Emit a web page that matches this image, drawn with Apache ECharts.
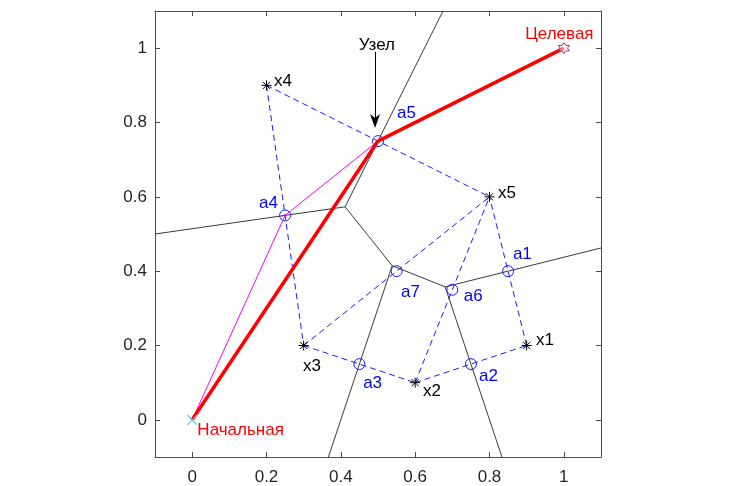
<!DOCTYPE html>
<html>
<head>
<meta charset="utf-8">
<script src="https://cdn.jsdelivr.net/npm/echarts@6/dist/echarts.min.js"></script>
<style>html,body{margin:0;padding:0;background:#fff}#c{width:730px;height:486px}</style>
</head>
<body>
<div id="c"></div>
<script>
// ---- data ----
const siteNames = ['x1', 'x2', 'x3', 'x4', 'x5'];
const siteX = [0.9, 0.6, 0.3, 0.2, 0.8];
const siteY = [0.2, 0.1, 0.2, 0.9, 0.6];
const siteLabelX = [0.925, 0.621, 0.298, 0.22, 0.823];
const siteLabelY = [0.215, 0.078, 0.145, 0.911, 0.61];

// Delaunay edges (pairs of site indices)
const edgeA = [3, 3, 2, 2, 1, 1, 0];
const edgeB = [4, 2, 4, 1, 4, 0, 4];

const midNames = ['a1', 'a2', 'a3', 'a4', 'a5', 'a6', 'a7'];
const midX = [0.85, 0.75, 0.45, 0.25, 0.5, 0.7, 0.55];
const midY = [0.4, 0.15, 0.15, 0.55, 0.75, 0.35, 0.4];
const midLabelX = [0.863, 0.772, 0.46, 0.18, 0.551, 0.731, 0.562];
const midLabelY = [0.446, 0.118, 0.097, 0.583, 0.825, 0.333, 0.344];

// Voronoi edges: start and end points
const vorX1 = [0.4115, 0.5382, 0.4115, 0.4115, 0.5382, 0.6808, 0.6808];
const vorY1 = [0.5731, 0.4147, 0.5731, 0.5731, 0.4147, 0.3577, 0.3577];
const vorX2 = [0.5382, 0.6808, 0.675, -0.1, 0.3666, 0.8334, 1.1];
const vorY2 = [0.4147, 0.3577, 1.1, 0.5, -0.1, -0.1, 0.4625];

const magentaX = [0, 0.25, 0.5];
const magentaY = [0, 0.55, 0.75];
const redX = [0, 0.5, 1];
const redY = [0, 0.75, 1];

const startPt = [0, 0];
const goalPt = [1, 1];
const startLabel = 'Начальная';
const startLabelPos = [0.014, -0.027];
const goalLabel = 'Целевая';
const goalLabelPos = [0.988, 1.038];
const nodeLabel = 'Узел';
const nodeLabelPos = [0.497, 1.008];
const arrowFrom = [0.492, 0.99];
const arrowTo = [0.492, 0.785];

const tickVals = [0, 0.2, 0.4, 0.6, 0.8, 1];

// ---- chart ----
const FONT = '"Liberation Sans", Arial, Helvetica, sans-serif';
const AX = '#4d4d4d';
const chart = echarts.init(document.getElementById('c'), null, {renderer: 'canvas'});

const fmt = v => String(Math.round(v * 10) / 10);
function axisCommon(pos, showLabel) {
  return {
    type: 'value', min: -0.1, max: 1.1, position: pos,
    axisLine: {show: true, onZero: false, lineStyle: {color: AX, width: 1}},
    axisTick: {show: true, inside: true, length: 5, customValues: tickVals, lineStyle: {color: AX}},
    axisLabel: {show: showLabel, customValues: tickVals, formatter: fmt, color: '#262626',
      fontFamily: FONT, fontSize: 17},
    splitLine: {show: false}
  };
}
const xMain = axisCommon('bottom', true); xMain.axisLabel.margin = 12;
const yMain = axisCommon('left', true); yMain.axisLabel.margin = 8;
const xTop = axisCommon('top', false);
const yRight = axisCommon('right', false);

const asterisk = 'path://M0,-5L0,5M-5,0L5,0M-3.6,-3.6L3.6,3.6M-3.6,3.6L3.6,-3.6';
const hexagram = 'path://M0,-5L1.44,-2.5L4.33,-2.5L2.89,0L4.33,2.5L1.44,2.5L0,5L-1.44,2.5L-4.33,2.5L-2.89,0L-4.33,-2.5L-1.44,-2.5Z';
const arrowHead = 'path://M-5,0L0,4L5,0L0,14Z';

const textStyle = (color, align) => ({
  show: true, position: align === 'center' ? 'inside' : 'right', distance: 0,
  formatter: p => p.value[2], color: color, fontFamily: FONT, fontSize: 17
});

const series = [];
// Delaunay dashed
series.push({
  type: 'lines', coordinateSystem: 'cartesian2d', z: 2,
  lineStyle: {color: '#1a1aff', width: 1, type: [6, 4], opacity: 1},
  data: edgeA.map((a, i) => ({coords: [[siteX[a], siteY[a]], [siteX[edgeB[i]], siteY[edgeB[i]]]]})),
  silent: true
});
// Voronoi
series.push({
  type: 'lines', coordinateSystem: 'cartesian2d', z: 3,
  lineStyle: {color: '#222', width: 0.9, opacity: 1},
  data: vorX1.map((x, i) => ({coords: [[x, vorY1[i]], [vorX2[i], vorY2[i]]]})),
  silent: true
});
// midpoints circles
series.push({
  type: 'scatter', z: 4, symbol: 'circle', symbolSize: 11,
  itemStyle: {color: 'rgba(0,0,0,0)', borderColor: '#1a1aff', borderWidth: 1, opacity: 1},
  data: midX.map((x, i) => [x, midY[i]])
});
// magenta path
series.push({
  type: 'line', z: 5, symbol: 'none', lineStyle: {color: '#ff00ff', width: 1},
  data: magentaX.map((x, i) => [x, magentaY[i]])
});
// red path
series.push({
  type: 'line', z: 6, symbol: 'none', lineStyle: {color: '#ff0000', width: 3.5},
  data: redX.map((x, i) => [x, redY[i]])
});
// sites
series.push({
  type: 'scatter', z: 7, symbol: asterisk, symbolSize: 10,
  itemStyle: {color: 'none', borderColor: '#000', borderWidth: 1, opacity: 1},
  data: siteX.map((x, i) => [x, siteY[i]])
});
// start / goal markers
series.push({
  type: 'scatter', z: 8, symbol: 'path://M-5,-5L5,5M-5,5L5,-5', symbolSize: 10,
  itemStyle: {color: 'none', borderColor: '#55c3f0', borderWidth: 1.2, opacity: 1},
  data: [startPt]
});
series.push({
  type: 'scatter', z: 8, symbol: hexagram, symbolSize: 11,
  itemStyle: {color: 'rgba(255,255,255,0.5)', borderColor: '#b8286a', borderWidth: 1, opacity: 1},
  data: [goalPt]
});
// arrow
series.push({
  type: 'lines', coordinateSystem: 'cartesian2d', z: 8,
  lineStyle: {color: '#000', width: 1, opacity: 1},
  data: [{coords: [arrowFrom, [arrowTo[0], arrowTo[1] + 0.02]]}], silent: true
});
series.push({
  type: 'scatter', z: 9, symbol: arrowHead, symbolSize: [10, 14], symbolOffset: [0, -7],
  itemStyle: {color: '#000', opacity: 1}, data: [arrowTo]
});
// labels
series.push({
  type: 'scatter', z: 10, symbolSize: 0, itemStyle: {opacity: 1}, label: textStyle('#000'),
  data: siteLabelX.map((x, i) => [x, siteLabelY[i], siteNames[i]])
});
series.push({
  type: 'scatter', z: 10, symbolSize: 0, itemStyle: {opacity: 1}, label: textStyle('#0000ff'),
  data: midLabelX.map((x, i) => [x, midLabelY[i], midNames[i]])
});
series.push({
  type: 'scatter', z: 10, symbolSize: 0, itemStyle: {opacity: 1}, label: textStyle('#ff0000'),
  data: [[startLabelPos[0], startLabelPos[1], startLabel]]
});
series.push({
  type: 'scatter', z: 10, symbolSize: 0, itemStyle: {opacity: 1}, label: textStyle('#ff0000', 'center'),
  data: [[goalLabelPos[0], goalLabelPos[1], goalLabel]]
});
series.push({
  type: 'scatter', z: 10, symbolSize: 0, itemStyle: {opacity: 1}, label: textStyle('#000', 'center'),
  data: [[nodeLabelPos[0], nodeLabelPos[1], nodeLabel]]
});

series.forEach(s => { s.animation = false; s.xAxisIndex = 0; s.yAxisIndex = 0; });

chart.setOption({
  backgroundColor: '#fff',
  animation: false,
  grid: {left: 155, top: 11, width: 446, height: 446, show: false},
  xAxis: [xMain, xTop],
  yAxis: [yMain, yRight],
  series: series
});
</script>
</body>
</html>
